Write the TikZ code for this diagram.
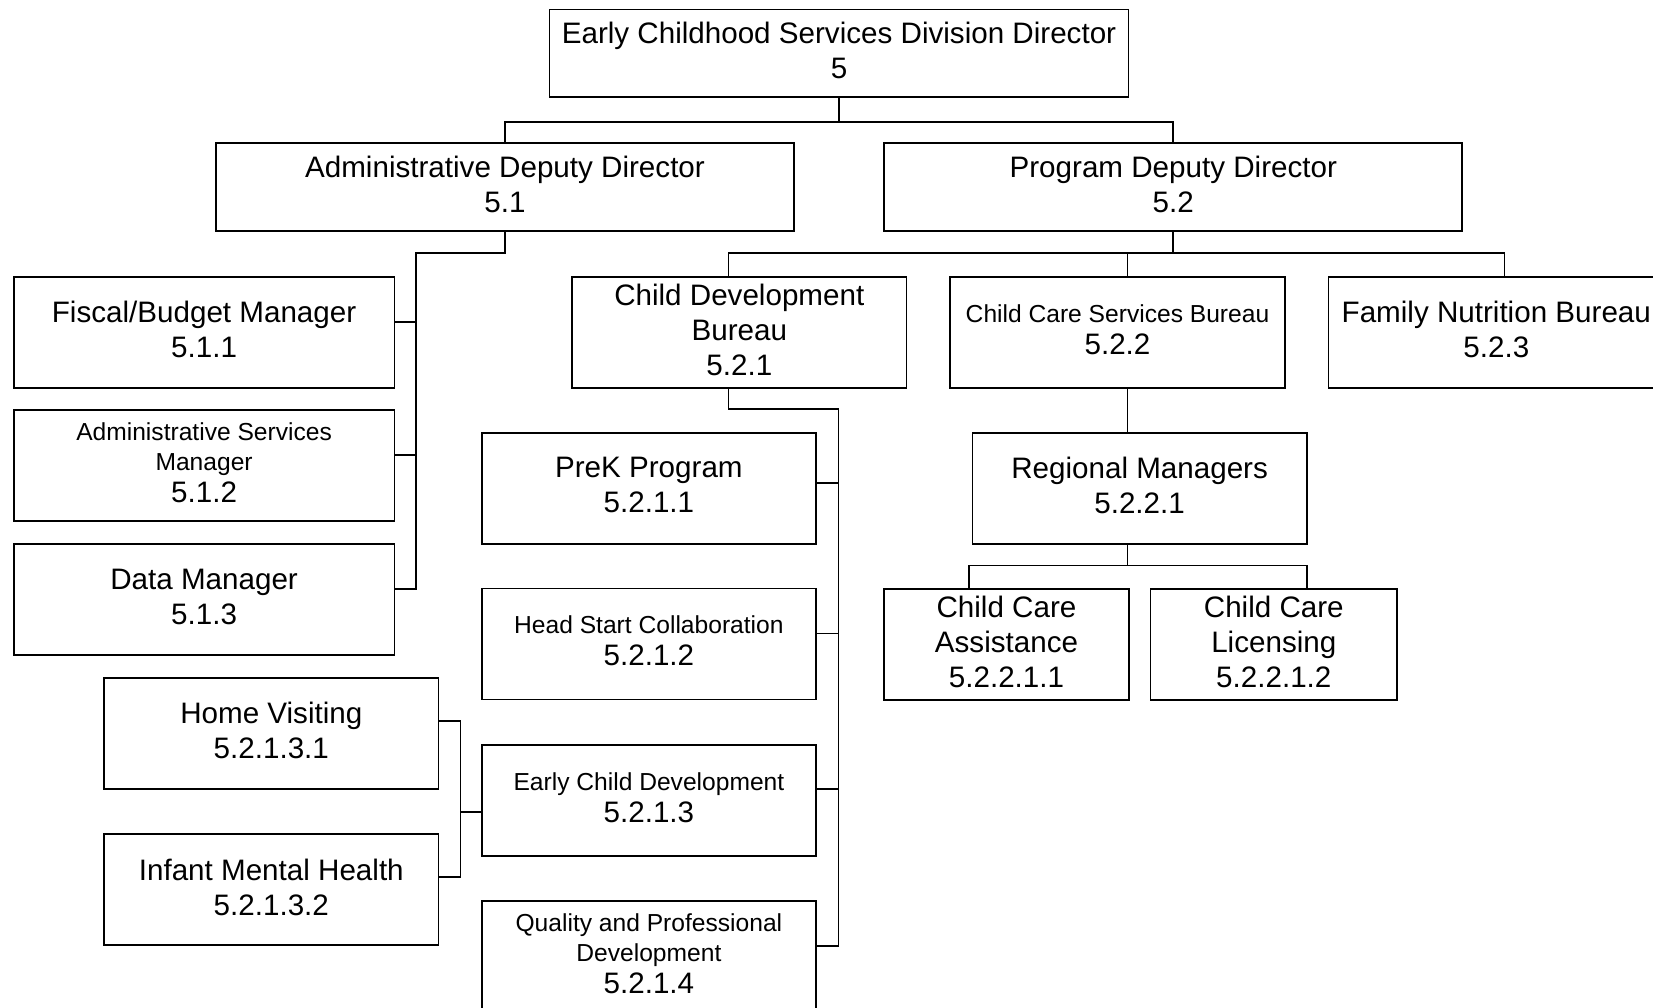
\documentclass[tikz,border=0pt]{standalone}
\usepackage{fontspec}
\setmainfont{Liberation Sans}
\newcommand\bigsz{\fontsize{29.6}{35}\selectfont}
\newcommand\smsz{\fontsize{24.6}{29.5}\selectfont}
\begin{document}
\begin{tikzpicture}[x=1pt,y=-1pt,
  unit/.style={draw=black, line width=1.7pt, inner sep=0pt, align=center,
               font=\bigsz, text=black, minimum height=111pt,
               execute at end node={\rule[-6pt]{0pt}{6pt}}},
  link/.style={draw=black, line width=1.7pt}]
\useasboundingbox (0,0) rectangle (1653,1008);
\clip (0,0) rectangle (1653,1008);

% director and deputies
\node[unit, minimum width=579pt, minimum height=87.5pt] (dir) at (839,53.3)
  {Early Childhood Services Division Director\\5};
\node[unit, minimum width=578pt, minimum height=87.5pt] (adm) at (505,187)
  {Administrative Deputy Director\\5.1};
\node[unit, minimum width=578pt, minimum height=87.5pt] (prog) at (1173.3,187)
  {Program Deputy Director\\5.2};

% administrative units
\node[unit, minimum width=380.6pt] (fis) at (204.1,332.3)
  {Fiscal/Budget Manager\\5.1.1};
\node[unit, minimum width=380.6pt] (svc) at (204.1,465.5)
  {{\smsz Administrative Services}\\[-5pt]{\smsz Manager}\\[-3pt]5.1.2};
\node[unit, minimum width=380.6pt] (dat) at (204.1,599.8)
  {Data Manager\\5.1.3};

% bureaus
\node[unit, minimum width=334.6pt] (cdb) at (739.3,332.3)
  {Child Development\\Bureau\\5.2.1};
\node[unit, minimum width=334.7pt] (ccs) at (1117.5,332.3)
  {{\smsz Child Care Services Bureau}\\[-3pt]5.2.2};
\node[unit, minimum width=335.5pt] (fnb) at (1496.3,332.3)
  {Family Nutrition Bureau\\5.2.3};

% child development programs
\node[unit, minimum width=334.3pt] (prek) at (648.9,488.3)
  {PreK Program\\5.2.1.1};
\node[unit, minimum width=334.3pt] (hsc) at (648.9,644)
  {{\smsz Head Start Collaboration}\\[-3pt]5.2.1.2};
\node[unit, minimum width=334.3pt] (ecd) at (648.9,800.3)
  {{\smsz Early Child Development}\\[-3pt]5.2.1.3};
\node[unit, minimum width=334.3pt] (qpd) at (648.9,956.5)
  {{\smsz Quality and Professional}\\[-5pt]{\smsz Development}\\[-3pt]5.2.1.4};
\node[unit, minimum width=334.5pt] (hv) at (271.3,733.5)
  {Home Visiting\\5.2.1.3.1};
\node[unit, minimum width=334.5pt] (imh) at (271.3,889.8)
  {Infant Mental Health\\5.2.1.3.2};

% child care services
\node[unit, minimum width=334.2pt] (rm) at (1139.6,488.3)
  {Regional Managers\\5.2.2.1};
\node[unit, minimum width=244.4pt] (cca) at (1006.5,644.5)
  {Child Care\\Assistance\\5.2.2.1.1};
\node[unit, minimum width=246.5pt] (ccl) at (1273.8,644.5)
  {Child Care\\Licensing\\5.2.2.1.2};

% director to deputies
\coordinate (b0) at (839,121.7);
\draw[link] (dir.south) -- (b0);
\draw[link] (adm.north) |- (b0) -| (prog.north);

% administrative deputy to its units
\coordinate (a0) at (416,253);
\coordinate (a1) at (416,321.7);
\coordinate (a2) at (416,455);
\coordinate (a3) at (416,589);
\draw[link] (adm.south) |- (a0) -- (a3) -- (a3 -| dat.east);
\draw[link] (fis.east |- a1) -- (a1);
\draw[link] (svc.east |- a2) -- (a2);

% program deputy to bureaus
\coordinate (d1) at (728.4,253.3);
\coordinate (d2) at (1127.5,253.3);
\coordinate (d3) at (1504.4,253.3);
\draw[link] (prog.south) -- (prog.south |- d1);
\draw[link] (d1 |- cdb.north) -- (d1) -- (d3) -- (d3 |- fnb.north);
\draw[link] (d2) -- (d2 |- ccs.north);

% child development bureau to programs
\coordinate (c0) at (728.4,408.7);
\coordinate (c1) at (838.6,408.7);
\coordinate (k1) at (838.6,483);
\coordinate (k2) at (838.6,633.4);
\coordinate (k3) at (838.6,789);
\coordinate (k4) at (838.6,946);
\draw[link] (c0 |- cdb.south) -- (c0) -- (c1) -- (k4) -- (k4 -| qpd.east);
\draw[link] (prek.east |- k1) -- (k1);
\draw[link] (hsc.east |- k2) -- (k2);
\draw[link] (ecd.east |- k3) -- (k3);

% early child development to its units
\coordinate (e0) at (460.6,811.8);
\coordinate (e1) at (460.6,721);
\coordinate (e2) at (460.6,877);
\draw[link] (ecd.west |- e0) -- (e0);
\draw[link] (hv.east |- e1) -- (e1) -- (e2) -- (imh.east |- e2);

% child care services to regional managers and below
\coordinate (r0) at (1127.5,565.6);
\coordinate (r1) at (968.8,565.6);
\coordinate (r2) at (1306.7,565.6);
\draw[link] (r0 |- ccs.south) -- (r0 |- rm.north);
\draw[link] (r0 |- rm.south) -- (r0);
\draw[link] (r1 |- cca.north) -- (r1) -- (r2) -- (r2 |- ccl.north);
\end{tikzpicture}
\end{document}
